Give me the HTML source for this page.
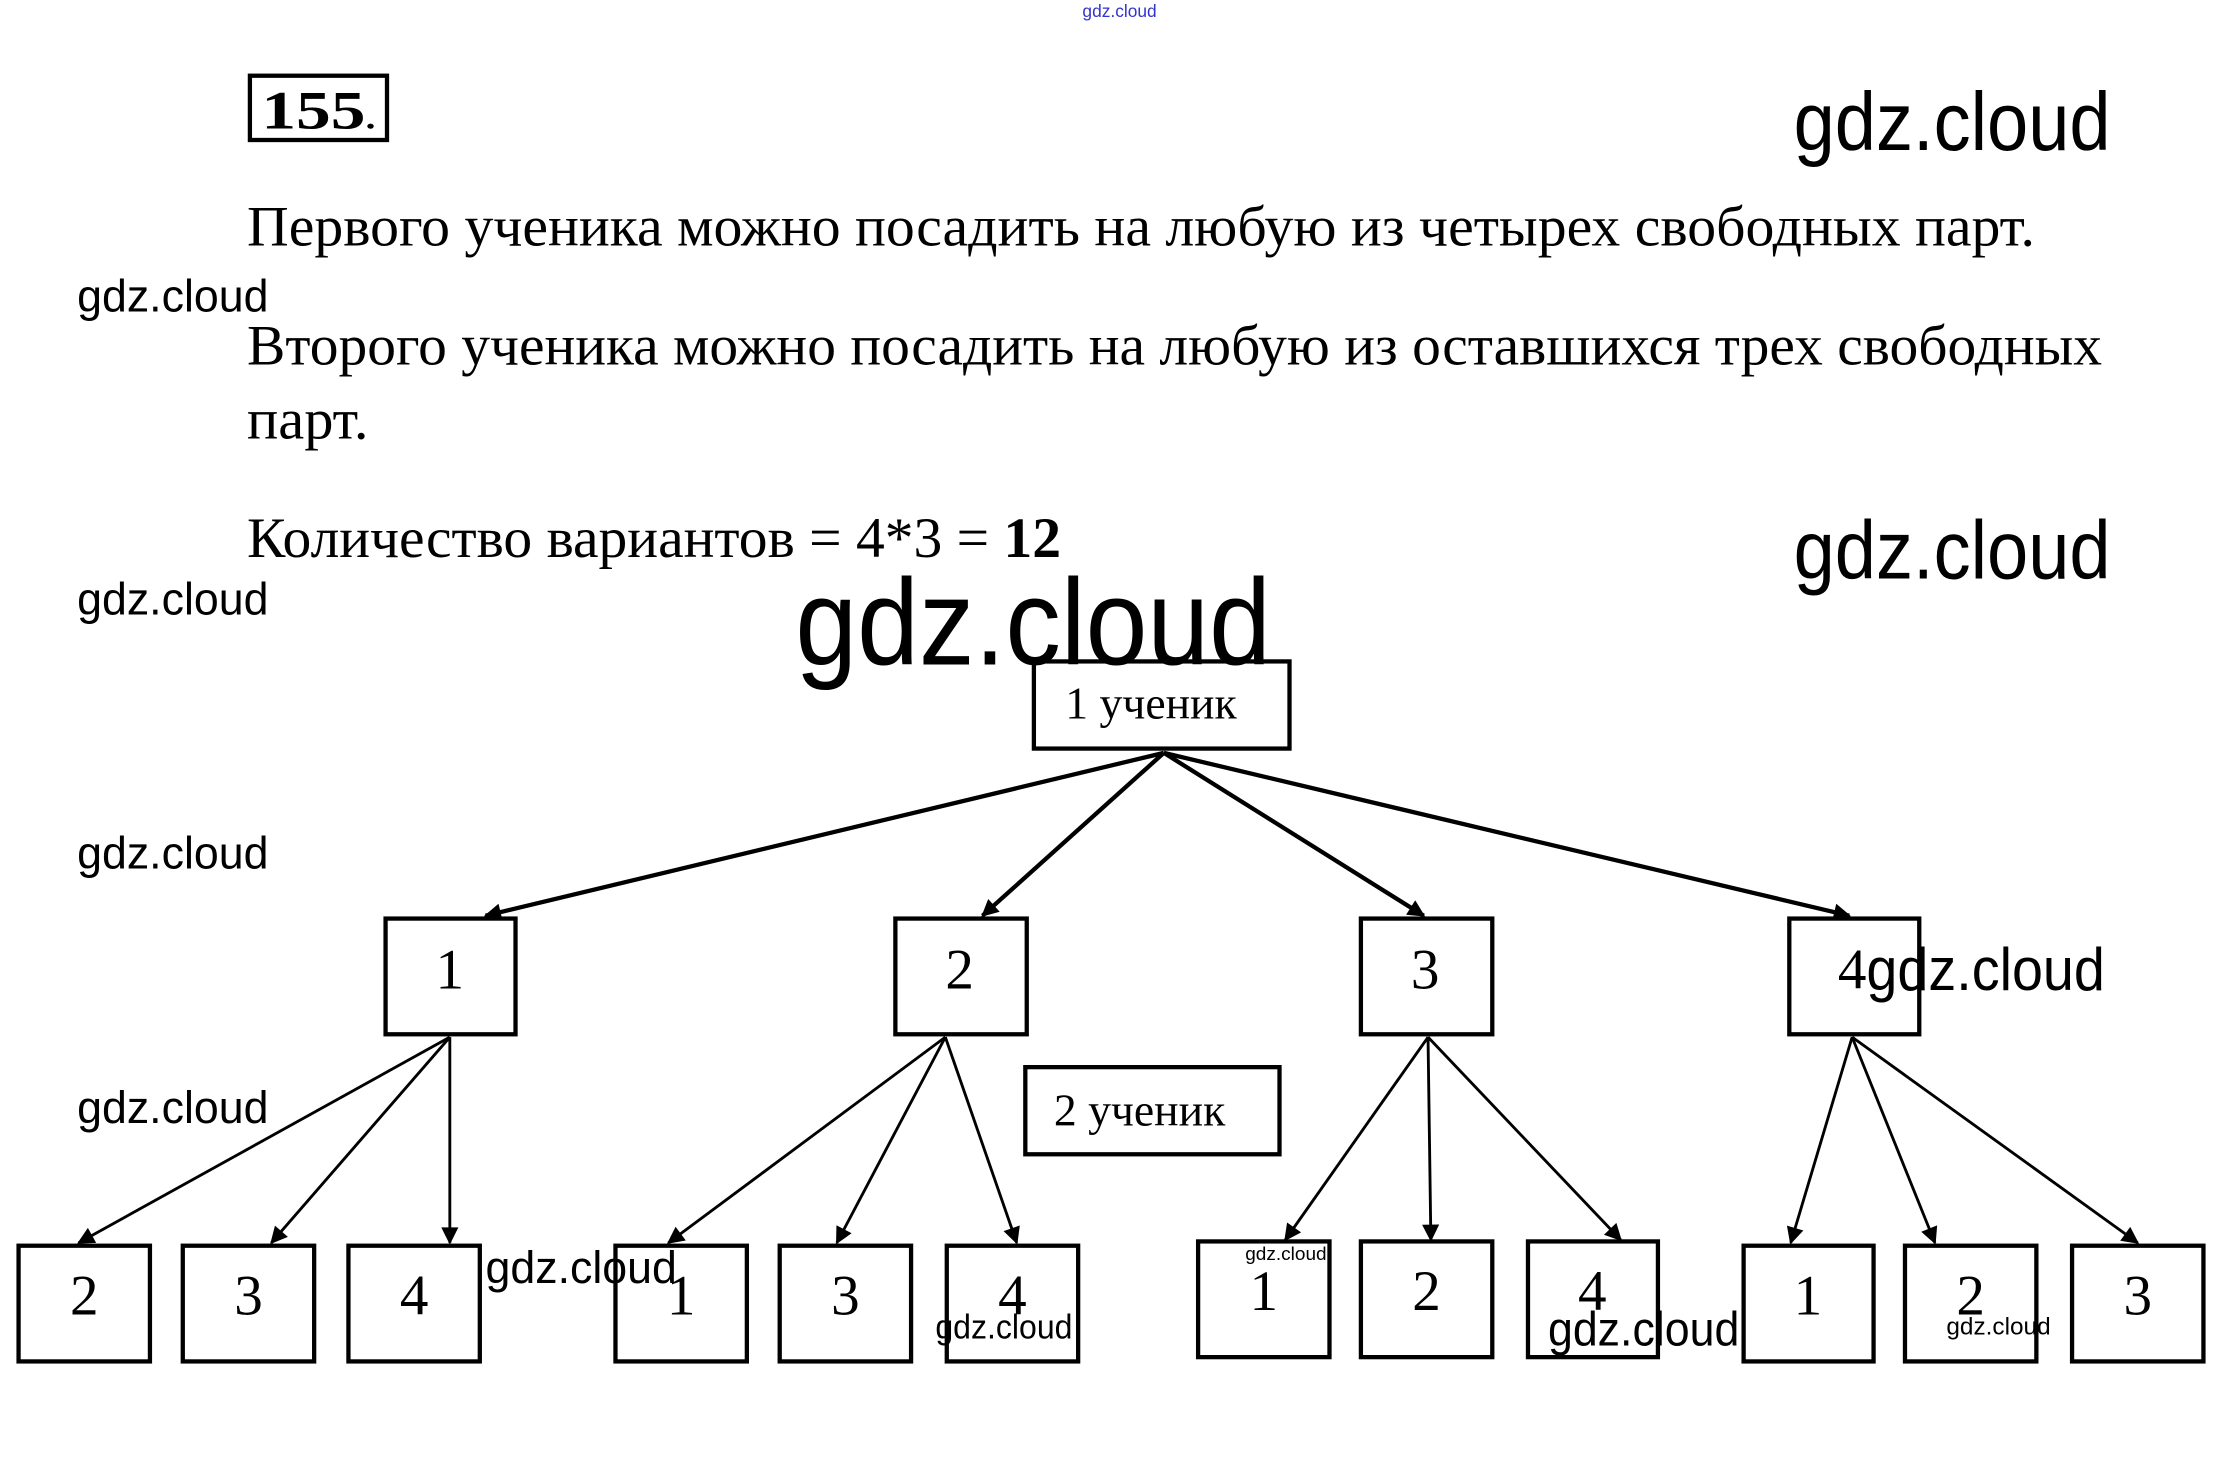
<!DOCTYPE html>
<html><head><meta charset="utf-8"><style>
html,body{margin:0;padding:0;background:#fff;width:2222px;height:1460px;overflow:hidden}
svg{display:block}
.s{font-family:"Liberation Serif",serif}
.w{font-family:"Liberation Sans",sans-serif;fill:#000}
</style></head><body>
<svg width="2222" height="1460" viewBox="0 0 1556 1022" preserveAspectRatio="none" xmlns="http://www.w3.org/2000/svg">
<defs>
<marker id="b" viewBox="0 0 10 10" refX="9" refY="5" markerWidth="14" markerHeight="12" orient="auto" markerUnits="userSpaceOnUse"><path d="M0,0 L10,5 L0,10 z" fill="#000"/></marker></defs>
<text x="758" y="12" class="w" font-size="12" style="fill:#33c" textLength="52" lengthAdjust="spacingAndGlyphs">gdz.cloud</text>
<rect x="175" y="53" width="96" height="45" fill="none" stroke="#000" stroke-width="3"/>
<text x="183" y="90" class="s" font-size="38" font-weight="bold" textLength="80" lengthAdjust="spacingAndGlyphs">155<tspan font-size="22">.</tspan></text>
<text x="1256" y="105" class="w" font-size="58" textLength="222" lengthAdjust="spacingAndGlyphs">gdz.cloud</text>
<text x="173" y="172" class="s" font-size="40" textLength="1252" lengthAdjust="spacingAndGlyphs">Первого ученика можно посадить на любую из четырех свободных парт.</text>
<text x="54" y="218" class="w" font-size="32" textLength="134" lengthAdjust="spacingAndGlyphs">gdz.cloud</text>
<text x="173" y="255" class="s" font-size="40" textLength="1299" lengthAdjust="spacingAndGlyphs">Второго ученика можно посадить на любую из оставшихся трех свободных</text>
<text x="173" y="307" class="s" font-size="40" textLength="85" lengthAdjust="spacingAndGlyphs">парт.</text>
<text x="173" y="390" class="s" font-size="40" textLength="570" lengthAdjust="spacingAndGlyphs">Количество вариантов = 4*3 = <tspan font-weight="bold">12</tspan></text>
<text x="1256" y="405" class="w" font-size="58" textLength="222" lengthAdjust="spacingAndGlyphs">gdz.cloud</text>
<text x="54" y="430" class="w" font-size="32" textLength="134" lengthAdjust="spacingAndGlyphs">gdz.cloud</text>
<text x="557" y="465" class="w" font-size="86" textLength="333" lengthAdjust="spacingAndGlyphs">gdz.cloud</text>
<g fill="none" stroke="#000" stroke-width="3">
<rect x="724" y="463" width="179" height="61"/>
<rect x="270" y="643" width="91" height="81"/>
<rect x="627" y="643" width="92" height="81"/>
<rect x="953" y="643" width="92" height="81"/>
<rect x="1253" y="643" width="91" height="81"/>
<rect x="718" y="747" width="178" height="61"/>
<rect x="13" y="872" width="92" height="81"/>
<rect x="128" y="872" width="92" height="81"/>
<rect x="244" y="872" width="92" height="81"/>
<rect x="431" y="872" width="92" height="81"/>
<rect x="546" y="872" width="92" height="81"/>
<rect x="663" y="872" width="92" height="81"/>
<rect x="839" y="869" width="92" height="81"/>
<rect x="953" y="869" width="92" height="81"/>
<rect x="1070" y="869" width="91" height="81"/>
<rect x="1221" y="872" width="91" height="81"/>
<rect x="1334" y="872" width="92" height="81"/>
<rect x="1451" y="872" width="92" height="81"/>
</g>
<g stroke="#000" stroke-width="3" marker-end="url(#b)">
<line x1="815" y1="527" x2="340" y2="641"/>
<line x1="815" y1="527" x2="688" y2="641"/>
<line x1="815" y1="527" x2="997" y2="641"/>
<line x1="815" y1="527" x2="1295" y2="641"/>
</g>
<g stroke="#000" stroke-width="2" marker-end="url(#b)">
<line x1="315" y1="726" x2="55" y2="870"/>
<line x1="315" y1="726" x2="190" y2="870"/>
<line x1="315" y1="726" x2="315" y2="870"/>
<line x1="662" y1="726" x2="468" y2="870"/>
<line x1="662" y1="726" x2="586" y2="870"/>
<line x1="662" y1="726" x2="712" y2="870"/>
<line x1="1000" y1="726" x2="900" y2="868"/>
<line x1="1000" y1="726" x2="1002" y2="868"/>
<line x1="1000" y1="726" x2="1135" y2="868"/>
<line x1="1297" y1="726" x2="1254" y2="870"/>
<line x1="1297" y1="726" x2="1355" y2="870"/>
<line x1="1297" y1="726" x2="1497" y2="870"/>
</g>
<g class="s" font-size="40" text-anchor="middle">
<text x="806" y="503" font-size="32">1 ученик</text>
<text x="315" y="692">1</text><text x="672" y="692">2</text><text x="998" y="692">3</text><text x="1297" y="692">4</text>
<text x="798" y="788" font-size="32">2 ученик</text>
<text x="59" y="920">2</text><text x="174" y="920">3</text><text x="290" y="920">4</text>
<text x="477" y="920">1</text><text x="592" y="920">3</text><text x="709" y="920">4</text>
<text x="885" y="917">1</text><text x="999" y="917">2</text><text x="1115" y="917">4</text>
<text x="1266" y="920">1</text><text x="1380" y="920">2</text><text x="1497" y="920">3</text>
</g>
<text x="54" y="608" class="w" font-size="32" textLength="134" lengthAdjust="spacingAndGlyphs">gdz.cloud</text>
<text x="54" y="786" class="w" font-size="32" textLength="134" lengthAdjust="spacingAndGlyphs">gdz.cloud</text>
<text x="1307" y="693" class="w" font-size="42" textLength="167" lengthAdjust="spacingAndGlyphs">gdz.cloud</text>
<text x="340" y="898" class="w" font-size="32" textLength="134" lengthAdjust="spacingAndGlyphs">gdz.cloud</text>
<text x="655" y="937" class="w" font-size="24" textLength="96" lengthAdjust="spacingAndGlyphs">gdz.cloud</text>
<text x="1084" y="942" class="w" font-size="34" textLength="134" lengthAdjust="spacingAndGlyphs">gdz.cloud</text>
<text x="872" y="882" class="w" font-size="13" textLength="57" lengthAdjust="spacingAndGlyphs">gdz.cloud</text>
<text x="1363" y="934" class="w" font-size="17" textLength="73" lengthAdjust="spacingAndGlyphs">gdz.cloud</text>
</svg>
</body></html>
